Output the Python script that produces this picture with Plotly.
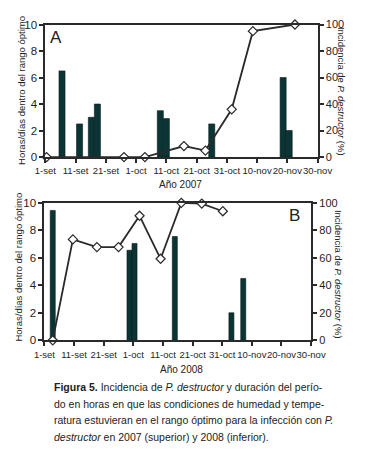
import plotly.graph_objects as go

# ---------------- data ----------------
tick_days = [0, 10, 20, 30, 40, 50, 60, 70, 80, 90]
tick_labels = ["1-set", "11-set", "21-set", "1-oct", "11-oct", "21-oct",
               "31-oct", "10-nov", "20-nov", "30-nov"]

# 2007 (A)  -- x = days after 1-set
bars07_day = [5.5, 11.3, 15.2, 17.2, 38.0, 40.0, 55.0, 78.6, 80.6]
bars07_hours = [6.5, 2.5, 3.0, 4.0, 3.5, 2.9, 2.5, 6.0, 2.0]
line07_day = [0.4, 26.0, 32.9, 45.8, 52.9, 61.6, 68.6, 82.5]
line07_pct = [0, 0, 0, 8.3, 4.9, 36, 95, 100]

# 2008 (B)
bars08_day = [2.8, 28.7, 30.4, 44.0, 63.1, 67.1]
bars08_hours = [9.45, 6.55, 7.05, 7.55, 2.0, 4.5]
line08_day = [2.8, 9.6, 17.7, 25.0, 32.1, 39.2, 46.2, 53.1, 60.2]
line08_pct = [0, 73.4, 67.8, 67.8, 90.6, 59.3, 100, 99.5, 93.9]

left_title = "Horas/días dentro del rango óptimo"
right_title = "Incidencia de <i>P. destructor</i> (%)"

# ---------------- styling ----------------
W, H = 367, 471
FONT = "Liberation Sans, Arial, sans-serif"
BAR = "#0b3535"
INK = "#2a2a2a"

def px_x(p):
    return p / W

def px_y(p):
    return 1 - p / H

fig = go.Figure()

fig.add_trace(go.Bar(x=bars07_day, y=bars07_hours, width=2.0,
                     marker=dict(color=BAR, line=dict(color="#061c1c", width=0.6)),
                     xaxis="x", yaxis="y", showlegend=False))
fig.add_trace(go.Scatter(x=line07_day, y=line07_pct, mode="lines+markers",
                         line=dict(color=INK, width=1.8),
                         marker=dict(symbol="diamond", size=7, color="white",
                                     line=dict(color=INK, width=1.2)),
                         cliponaxis=False, xaxis="x", yaxis="y2", showlegend=False))
fig.add_trace(go.Bar(x=bars08_day, y=bars08_hours, width=1.7,
                     marker=dict(color=BAR, line=dict(color="#061c1c", width=0.6)),
                     xaxis="x2", yaxis="y3", showlegend=False))
fig.add_trace(go.Scatter(x=line08_day, y=line08_pct, mode="lines+markers",
                         line=dict(color=INK, width=1.8),
                         marker=dict(symbol="diamond", size=7, color="white",
                                     line=dict(color=INK, width=1.2)),
                         cliponaxis=False, xaxis="x2", yaxis="y4", showlegend=False))

def axis_common(size):
    return dict(showgrid=False, zeroline=False, showline=True,
                linecolor=INK, linewidth=2, ticks="outside", ticklen=4,
                tickwidth=1.5, tickcolor=INK,
                tickfont=dict(family=FONT, size=size, color="#1e1e1e"))

top_dom_x = [px_x(37), px_x(330)]
top_dom_y = [px_y(155), px_y(19)]
bot_dom_x = [px_x(36), px_x(323)]
bot_dom_y = [px_y(343), px_y(202)]

fig.update_layout(
    width=W, height=H, margin=dict(l=0, r=0, t=0, b=0),
    paper_bgcolor="white", plot_bgcolor="white", barmode="overlay",
    xaxis=dict(domain=top_dom_x, range=[0, 90], tickvals=tick_days, tickangle=0,
               ticktext=tick_labels, anchor="y", mirror=True, **axis_common(9.5)),
    yaxis=dict(domain=top_dom_y, range=[0, 10], dtick=2, anchor="x", **axis_common(11.5)),
    yaxis2=dict(range=[0, 100], dtick=20, overlaying="y", side="right",
                anchor="x", **axis_common(11)),
    xaxis2=dict(domain=bot_dom_x, range=[0, 90], tickvals=tick_days, tickangle=0,
                ticktext=tick_labels, anchor="y3", mirror=True, **axis_common(9.5)),
    yaxis3=dict(domain=bot_dom_y, range=[0, 10], dtick=2, anchor="x2", **axis_common(11.5)),
    yaxis4=dict(range=[0, 100], dtick=20, overlaying="y3", side="right",
                anchor="x2", **axis_common(11)),
)

ann = []
def add(text, x, y, size=12, angle=0, xanchor="center", yanchor="middle", color="#222"):
    ann.append(dict(text=text, x=px_x(x), y=px_y(y), xref="paper", yref="paper",
                    showarrow=False, textangle=angle, xanchor=xanchor,
                    yanchor=yanchor, font=dict(family=FONT, size=size, color=color)))

# panel letters
add("A", 48, 32, size=17, xanchor="center")
add("B", 305, 215, size=17, xanchor="center")
# axis titles
add(left_title, 12, 87, size=9.5, angle=-90)
add(left_title, 8, 268, size=9.5, angle=-90)
add(right_title, 355, 88, size=9.5, angle=90)
add(right_title, 352, 275, size=9.5, angle=90)
add("Año 2007", 182, 183, size=10)
add("Año 2008", 183, 373, size=10)

# caption
cap = [
    "<b>Figura 5.</b> Incidencia de <i>P. destructor</i> y duración del perío-",
    "do en horas en que las condiciones de humedad y tempe-",
    "ratura estuvieran en el rango óptimo para la infección con <i>P.</i>",
    "<i>destructor</i> en 2007 (superior) y 2008 (inferior).",
]
for i, line in enumerate(cap):
    add(line, 44, 391 + 17 * i, size=10.5, xanchor="left")

fig.update_layout(annotations=ann)
fig.write_html("out.html", config={"displayModeBar": False},
               post_script="document.body.style.margin='0';document.body.style.padding='0';")
